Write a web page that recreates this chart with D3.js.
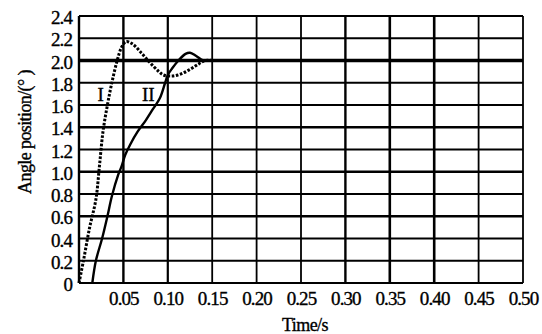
<!DOCTYPE html>
<html>
<head>
<meta charset="utf-8">
<script src="https://cdn.jsdelivr.net/npm/d3@7"></script>
<style>
  html, body { margin: 0; padding: 0; background: #fff; }
  text { font-family: 'Liberation Serif', 'DejaVu Serif', serif; fill: #000; stroke: #000; stroke-width: 0.35px; }
</style>
</head>
<body>
<div id="graph"></div>
<script>
// time (s) and angle (deg)
const xTicks = [0.05, 0.10, 0.15, 0.20, 0.25, 0.30, 0.35, 0.40, 0.45, 0.50]
const yTicks = [0, 0.2, 0.4, 0.6, 0.8, 1.0, 1.2, 1.4, 1.6, 1.8, 2.0, 2.2, 2.4]

const curveITime = [0, 0.005, 0.012, 0.019, 0.023, 0.027, 0.032, 0.037, 0.043, 0.048, 0.053, 0.06, 0.07, 0.08, 0.09, 0.095, 0.105, 0.115, 0.125, 0.135, 0.142, 0.15]
const curveIAngle = [0, 0.2, 0.5, 0.75, 1.05, 1.36, 1.6, 1.8, 2.0, 2.12, 2.17, 2.15, 2.07, 1.98, 1.9, 1.87, 1.86, 1.88, 1.92, 1.97, 2.0, 2.0]

const curveIITime = [0.015, 0.019, 0.026, 0.032, 0.037, 0.044, 0.048, 0.052, 0.058, 0.066, 0.075, 0.083, 0.091, 0.097, 0.1, 0.105, 0.112, 0.12, 0.125, 0.132, 0.14, 0.15]
const curveIIAngle = [0, 0.2, 0.4, 0.6, 0.78, 0.97, 1.05, 1.15, 1.25, 1.36, 1.46, 1.56, 1.66, 1.8, 1.87, 1.93, 2.0, 2.06, 2.07, 2.04, 2.0, 2.0]

const steadyValue = 2.0

const width = 542
const height = 334
const margin = { top: 16, right: 19, bottom: 51, left: 79 }
const w = width - margin.left - margin.right
const h = height - margin.top - margin.bottom

const svg = d3.select('#graph')
  .append('svg')
  .attr('width', width)
  .attr('height', height)

const g = svg.append('g')
  .attr('transform', `translate(${margin.left}, ${margin.top})`)

const x = d3.scaleLinear([0, 0.5], [0, w])
const y = d3.scaleLinear([0, 2.4], [h, 0])

// grid
g.append('g')
  .selectAll('line')
  .data(xTicks)
  .enter()
  .append('line')
  .attr('x1', d => x(d))
  .attr('x2', d => x(d))
  .attr('y1', 0)
  .attr('y2', h)
  .attr('stroke', '#000')
  .attr('stroke-width', (d, i) => [2.4, 2.2, 1.8, 1.8, 1.8, 2.4, 2.6, 2.6, 1.8, 1.8][i])

g.append('g')
  .selectAll('line')
  .data(yTicks)
  .enter()
  .append('line')
  .attr('x1', 0)
  .attr('x2', w)
  .attr('y1', d => y(d))
  .attr('y2', d => y(d))
  .attr('stroke', '#000')
  .attr('stroke-width', d => d === steadyValue ? 3.4 : (d === 1.0 || d === 0.6 || d === 1.4 ? 2.4 : 1.8))

g.append('line')
  .attr('x1', 0).attr('x2', 0).attr('y1', 0).attr('y2', h)
  .attr('stroke', '#000').attr('stroke-width', 2.4)

// axes labels
const xAxis = g.append('g')
  .attr('transform', `translate(0, ${h})`)
  .call(d3.axisBottom(x).tickValues(xTicks).tickSize(0).tickPadding(9).tickFormat(d3.format('.2f')))
xAxis.select('.domain').remove()
xAxis.selectAll('text')
  .style('font-size', '19px')
  .style('letter-spacing', '-0.9px')

const yAxis = g.append('g')
  .call(d3.axisLeft(y).tickValues(yTicks).tickSize(0).tickPadding(7).tickFormat(d => d === 0 ? '0' : d3.format('.1f')(d)))
yAxis.select('.domain').remove()
yAxis.selectAll('text')
  .style('font-size', '19px')
  .style('letter-spacing', '-0.9px')
  .attr('dy', '0.4em')

// curves
const line = d3.line()
  .x(d => x(d[0]))
  .y(d => y(d[1]))
  .curve(d3.curveCatmullRom)

g.append('path')
  .datum(d3.zip(curveITime, curveIAngle))
  .attr('fill', 'none')
  .attr('stroke', '#000')
  .attr('stroke-width', 3)
  .attr('stroke-dasharray', '2.6,1.6')
  .attr('d', line)

g.append('path')
  .datum(d3.zip(curveIITime, curveIIAngle))
  .attr('fill', 'none')
  .attr('stroke', '#000')
  .attr('stroke-width', 2.4)
  .attr('d', line)

g.append('text')
  .attr('x', x(0.0245))
  .attr('y', y(1.7))
  .attr('text-anchor', 'middle')
  .attr('dy', '0.35em')
  .style('font-size', '19px')
  .text('I')

g.append('text')
  .attr('x', x(0.078))
  .attr('y', y(1.7))
  .attr('text-anchor', 'middle')
  .attr('dy', '0.35em')
  .style('font-size', '19px')
  .text('II')

svg.append('text')
  .attr('x', 305)
  .attr('y', 331)
  .attr('text-anchor', 'middle')
  .style('font-size', '18px')
  .style('letter-spacing', '-0.6px')
  .text('Time/s')

svg.append('text')
  .attr('transform', 'translate(31, 132) rotate(-90)')
  .attr('text-anchor', 'middle')
  .style('font-size', '18px')
  .style('letter-spacing', '-0.6px')
  .text('Angle position/(° )')
</script>
</body>
</html>
